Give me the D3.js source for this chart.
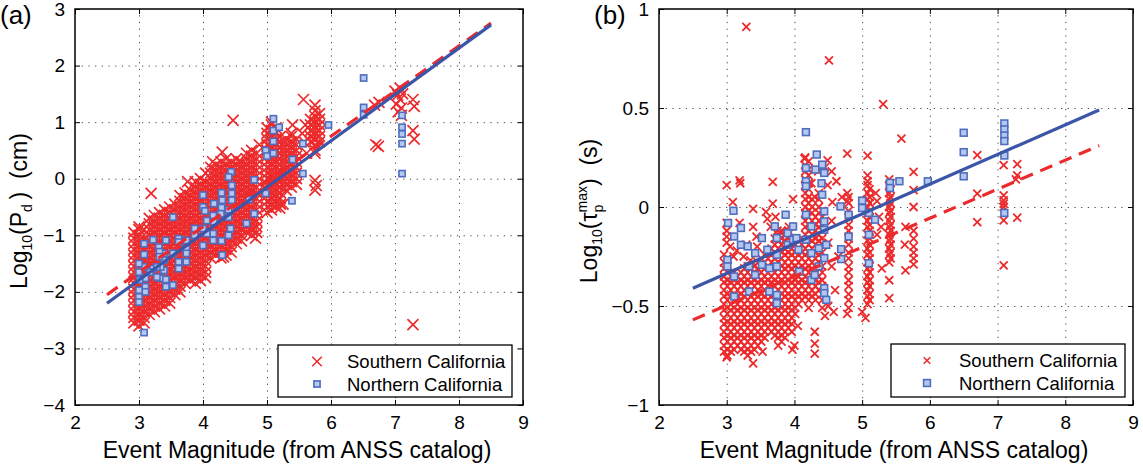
<!DOCTYPE html>
<html>
<meta charset="utf-8">
<script src="https://d3js.org/d3.v7.min.js"></script>
<style>
  body { margin: 0; background: #fff; }
  svg text { font-family: "Liberation Sans", Arial, Helvetica, sans-serif; fill: #000; }
</style>
<body>
<div id="chart"></div>
<script>
// ---------------- values ----------------
const magTicks = [2, 3, 4, 5, 6, 7, 8, 9];
const pdTicks = [-4, -3, -2, -1, 0, 1, 2, 3];
const pdTickLabels = ["−4", "−3", "−2", "−1", "0", "1", "2", "3"];
const tauTicks = [-1, -0.5, 0, 0.5, 1];
const tauTickLabels = ["−1", "−0.5", "0", "0.5", "1"];
const seriesNames = ["Southern California", "Northern California"];

// (a) Southern California, dense columns: [magnitude, log10(Pd) values]
const southPdColumns = [
  [2.92, [-0.95,-1.05,-1.15,-1.25,-1.35,-1.45,-1.55,-1.65,-1.75,-1.85,-1.95,-2.05,-2.15,-2.25,-2.35,-2.45,-2.55]],
  [3.00, [-0.85,-0.9,-1.0,-1.1,-1.2,-1.3,-1.4,-1.5,-1.6,-1.7,-1.8,-1.9,-2.0,-2.1,-2.2,-2.3,-2.4,-2.5,-2.6]],
  [3.08, [-0.9,-1.05,-1.15,-1.25,-1.35,-1.45,-1.55,-1.65,-1.75,-1.85,-1.95,-2.05,-2.15,-2.25,-2.35,-2.45,-2.55]],
  [3.16, [-0.7,-0.8,-0.9,-1.0,-1.1,-1.2,-1.3,-1.4,-1.5,-1.6,-1.7,-1.8,-1.9,-2.0,-2.1,-2.2,-2.3,-2.4]],
  [3.24, [-0.65,-0.75,-0.85,-0.95,-1.05,-1.15,-1.25,-1.35,-1.45,-1.55,-1.65,-1.75,-1.85,-1.95,-2.05,-2.15,-2.25,-2.35]],
  [3.32, [-0.6,-0.7,-0.8,-0.9,-1.0,-1.1,-1.2,-1.3,-1.4,-1.5,-1.6,-1.7,-1.8,-1.9,-2.0,-2.1,-2.2,-2.3]],
  [3.40, [-0.55,-0.65,-0.75,-0.85,-0.95,-1.05,-1.15,-1.25,-1.35,-1.45,-1.55,-1.65,-1.75,-1.85,-1.95,-2.05,-2.15,-2.25]],
  [3.48, [-0.5,-0.6,-0.7,-0.8,-0.9,-1.0,-1.1,-1.2,-1.3,-1.4,-1.5,-1.6,-1.7,-1.8,-1.9,-2.0,-2.1,-2.2]],
  [3.56, [-0.45,-0.55,-0.65,-0.75,-0.85,-0.95,-1.05,-1.15,-1.25,-1.35,-1.45,-1.55,-1.65,-1.75,-1.85,-1.95,-2.05]],
  [3.64, [-0.3,-0.4,-0.5,-0.6,-0.7,-0.8,-0.9,-1.0,-1.1,-1.2,-1.3,-1.4,-1.5,-1.6,-1.7,-1.8,-1.9,-2.0]],
  [3.72, [-0.25,-0.35,-0.45,-0.55,-0.65,-0.75,-0.85,-0.95,-1.05,-1.15,-1.25,-1.35,-1.45,-1.55,-1.65,-1.75,-1.85]],
  [3.80, [-0.2,-0.3,-0.4,-0.5,-0.6,-0.7,-0.8,-0.9,-1.0,-1.1,-1.2,-1.3,-1.4,-1.5,-1.6,-1.7,-1.8]],
  [3.88, [-0.05,-0.15,-0.25,-0.35,-0.45,-0.55,-0.65,-0.75,-0.85,-0.95,-1.05,-1.15,-1.25,-1.35,-1.45,-1.55,-1.65,-1.75,-1.85]],
  [3.96, [0.0,-0.1,-0.2,-0.3,-0.4,-0.5,-0.6,-0.7,-0.8,-0.9,-1.0,-1.1,-1.2,-1.3,-1.4,-1.5,-1.6,-1.7,-1.8]],
  [4.04, [0.1,-0.05,-0.15,-0.25,-0.35,-0.45,-0.55,-0.65,-0.75,-0.85,-0.95,-1.05,-1.15,-1.25,-1.35,-1.45,-1.55,-1.65,-1.75]],
  [4.12, [0.2,0.1,0.0,-0.1,-0.2,-0.3,-0.4,-0.5,-0.6,-0.7,-0.8,-0.9,-1.0,-1.1,-1.2,-1.3,-1.4]],
  [4.20, [0.25,0.15,0.05,-0.05,-0.15,-0.25,-0.35,-0.45,-0.55,-0.65,-0.75,-0.85,-0.95,-1.05,-1.15,-1.25,-1.35]],
  [4.28, [0.3,0.2,0.1,0.0,-0.1,-0.2,-0.3,-0.4,-0.5,-0.6,-0.7,-0.8,-0.9,-1.0,-1.1,-1.2,-1.3,-1.4]],
  [4.36, [0.35,0.25,0.15,0.05,-0.05,-0.15,-0.25,-0.35,-0.45,-0.55,-0.65,-0.75,-0.85,-0.95,-1.05,-1.15,-1.25,-1.35]],
  [4.44, [0.3,0.2,0.1,0.0,-0.1,-0.2,-0.3,-0.4,-0.5,-0.6,-0.7,-0.8,-0.9,-1.0,-1.1,-1.2,-1.3]],
  [4.52, [0.35,0.25,0.15,0.05,-0.05,-0.15,-0.25,-0.35,-0.45,-0.55,-0.65,-0.75,-0.85,-0.95,-1.05,-1.15]],
  [4.60, [0.3,0.2,0.1,0.0,-0.1,-0.2,-0.3,-0.4,-0.5,-0.6,-0.7,-0.8,-0.9,-1.0,-1.1]],
  [4.68, [0.45,0.35,0.25,0.15,0.05,-0.05,-0.15,-0.25,-0.35,-0.45,-0.55,-0.65,-0.75,-0.85,-0.95]],
  [4.76, [0.5,0.4,0.3,0.2,0.1,0.0,-0.1,-0.2,-0.3,-0.4,-0.5,-0.6,-0.7,-0.8,-0.9,-1.0]],
  [4.84, [0.45,0.35,0.25,0.15,0.05,-0.05,-0.15,-0.25,-0.35,-0.45,-0.55,-0.65,-0.75,-0.85,-0.95]],
  [5.00, [0.9,0.8,0.7,0.6,0.5,0.4,0.3,0.2,0.1,0.0,-0.1,-0.2,-0.3,-0.4,-0.5,-0.6]],
  [5.07, [1.0,0.95,0.85,0.75,0.65,0.55,0.45,0.35,0.25,0.15,0.05,-0.05,-0.15,-0.25,-0.35,-0.45,-0.55]],
  [5.14, [0.9,0.8,0.7,0.6,0.5,0.4,0.3,0.2,0.1,0.0,-0.1,-0.2,-0.3,-0.4,-0.5]],
  [5.21, [0.75,0.65,0.55,0.45,0.35,0.25,0.15,0.05,-0.05,-0.15,-0.25,-0.35,-0.45]],
  [5.30, [0.7,0.6,0.5,0.4,0.3,0.2,0.1,0.0,-0.1,-0.2]],
  [5.38, [0.8,0.75,0.65,0.55,0.45,0.35,0.25,0.15,0.05,-0.05,-0.15]],
  [5.46, [0.7,0.6,0.5,0.4,0.3,0.2,0.1,0.0,-0.1]],
  [5.68, [1.05,0.95,0.85,0.75,0.65]],
  [5.75, [1.3,1.2,1.1,1.0,0.9,0.8,0.7,0.6,0.5]],
  [5.82, [1.15,1.05,0.95,0.85,0.75,0.65]]
];
// (a) Southern California, isolated points: [magnitude, log10(Pd)]
const southPdScatter = [
  [3.19,-0.26],[3.76,-0.05],[4.30,0.47],[4.15,0.30],[4.47,1.03],[4.56,0.30],[4.82,-1.05],[4.78,-0.88],
  [4.32,-1.38],[4.88,0.60],[5.20,-0.52],[5.25,-0.45],[5.40,0.95],[5.57,1.40],[5.58,0.65],[5.62,0.45],
  [5.55,0.80],[5.60,0.95],[5.75,0.45],[5.75,-0.03],[5.77,-0.12],[5.75,-0.20],[6.68,1.30],[6.75,1.35],
  [6.70,0.60],[6.74,0.57],[7.00,1.55],[7.04,1.48],[7.08,1.40],[7.02,1.32],[7.10,1.25],[7.05,1.18],
  [7.12,1.50],[7.08,1.60],[7.10,1.12],[7.28,1.40],[7.30,1.28],[7.28,0.85],[7.30,0.70],[7.28,-2.58]
];
// (a) Northern California: [magnitude, log10(Pd)]
const northPd = [
  [6.51,1.78],[6.51,1.26],[6.51,1.13],[5.96,0.95],[5.10,1.06],[5.10,0.85],[5.19,0.91],[5.10,0.66],
  [4.98,0.50],[5.00,0.40],[5.10,0.45],[4.98,-0.26],[5.40,0.34],[5.56,0.62],[5.56,0.09],[5.39,-0.39],
  [4.80,-0.02],[4.80,-0.62],[4.68,-0.79],[4.72,-0.37],[4.44,0.12],[4.40,0.03],[4.45,-0.12],[4.45,-0.26],
  [4.45,-0.38],[4.40,-0.55],[4.40,-0.68],[4.43,-0.88],[4.40,-1.00],[4.29,-0.25],[4.30,-0.38],[4.29,-0.51],
  [4.28,-0.62],[4.17,-0.44],[4.16,-0.65],[4.17,-0.76],[4.29,-1.10],[4.30,-1.35],[4.16,-0.97],[4.06,-0.97],
  [4.00,-0.29],[4.00,-0.50],[4.03,-0.57],[4.06,-0.74],[4.00,-0.88],[4.00,-1.18],[4.16,-1.09],[3.87,-0.88],
  [3.87,-1.00],[3.74,-1.09],[3.74,-1.24],[3.62,-1.06],[3.62,-1.12],[3.74,-1.32],[3.74,-1.47],[3.62,-1.47],
  [3.62,-1.59],[3.53,-0.68],[3.53,-1.32],[3.53,-1.88],[3.42,-1.09],[3.39,-1.32],[3.39,-1.44],[3.39,-1.62],
  [3.42,-1.91],[3.31,-1.21],[3.32,-1.29],[3.32,-1.38],[3.34,-1.56],[3.34,-1.76],[3.42,-1.78],[3.22,-1.08],
  [3.22,-1.59],[3.17,-1.65],[3.08,-1.15],[3.08,-1.34],[3.08,-1.56],[3.10,-1.76],[3.10,-1.91],[3.10,-2.00],
  [3.00,-1.50],[3.00,-1.65],[3.01,-1.79],[3.00,-1.97],[3.00,-2.09],[3.00,-2.18],[3.08,-2.72],[3.28,-1.56],
  [3.28,-1.74],[7.11,1.12],[7.11,0.91],[7.11,0.79],[7.11,0.62],[7.11,0.09]
];
const fitPdSouth = [[2.5, -2.05], [8.5, 2.75]];
const fitPdNorth = [[2.5, -2.2], [8.5, 2.72]];

// (b) Southern California, dense columns: [magnitude, log10(tau_p max) values]
const southTauColumns = [
  [2.96, [-0.24,-0.28,-0.31,-0.35,-0.38,-0.42,-0.45,-0.49,-0.52,-0.56,-0.59,-0.63,-0.66,-0.7,-0.73]],
  [3.01, [-0.26,-0.3,-0.33,-0.37,-0.4,-0.44,-0.47,-0.51,-0.54,-0.58,-0.61,-0.65,-0.68,-0.72,-0.75]],
  [3.06, [-0.35,-0.38,-0.42,-0.45,-0.49,-0.52,-0.56,-0.59,-0.63,-0.66,-0.7,-0.73]],
  [3.11, [-0.33,-0.37,-0.4,-0.44,-0.47,-0.51,-0.54,-0.58,-0.61,-0.65,-0.68,-0.72]],
  [3.16, [-0.35,-0.38,-0.42,-0.45,-0.49,-0.52,-0.56,-0.59,-0.63,-0.66,-0.7]],
  [3.21, [-0.33,-0.37,-0.4,-0.44,-0.47,-0.51,-0.54,-0.58,-0.61,-0.65,-0.68,-0.72]],
  [3.26, [-0.31,-0.35,-0.38,-0.42,-0.45,-0.49,-0.52,-0.56,-0.59,-0.63,-0.66,-0.7,-0.73]],
  [3.31, [-0.3,-0.33,-0.37,-0.4,-0.44,-0.47,-0.51,-0.54,-0.58,-0.61,-0.65,-0.68,-0.72,-0.75]],
  [3.36, [-0.31,-0.35,-0.38,-0.42,-0.45,-0.49,-0.52,-0.56,-0.59,-0.63,-0.66,-0.7,-0.73]],
  [3.41, [-0.3,-0.33,-0.37,-0.4,-0.44,-0.47,-0.51,-0.54,-0.58,-0.61,-0.65,-0.68,-0.72]],
  [3.46, [-0.28,-0.31,-0.35,-0.38,-0.42,-0.45,-0.49,-0.52,-0.56,-0.59,-0.63,-0.66,-0.7]],
  [3.51, [-0.26,-0.3,-0.33,-0.37,-0.4,-0.44,-0.47,-0.51,-0.54,-0.58,-0.61,-0.65,-0.68]],
  [3.56, [-0.24,-0.28,-0.31,-0.35,-0.38,-0.42,-0.45,-0.49,-0.52,-0.56,-0.59,-0.63,-0.66]],
  [3.61, [-0.23,-0.26,-0.3,-0.33,-0.37,-0.4,-0.44,-0.47,-0.51,-0.54,-0.58,-0.61]],
  [3.66, [-0.21,-0.24,-0.28,-0.31,-0.35,-0.38,-0.42,-0.45,-0.49,-0.52,-0.56,-0.59,-0.63]],
  [3.71, [-0.16,-0.19,-0.23,-0.26,-0.3,-0.33,-0.37,-0.4,-0.44,-0.47,-0.51,-0.54,-0.58,-0.61,-0.65]],
  [3.76, [-0.14,-0.17,-0.21,-0.24,-0.28,-0.31,-0.35,-0.38,-0.42,-0.45,-0.49,-0.52,-0.56,-0.59,-0.63,-0.66,-0.7]],
  [3.81, [-0.12,-0.16,-0.19,-0.23,-0.26,-0.3,-0.33,-0.37,-0.4,-0.44,-0.47,-0.51,-0.54,-0.58,-0.61,-0.65,-0.68]],
  [3.86, [-0.14,-0.17,-0.21,-0.24,-0.28,-0.31,-0.35,-0.38,-0.42,-0.45,-0.49,-0.52,-0.56,-0.59,-0.63,-0.66]],
  [3.91, [-0.12,-0.16,-0.19,-0.23,-0.26,-0.3,-0.33,-0.37,-0.4,-0.44,-0.47,-0.51,-0.54,-0.58,-0.61]],
  [3.96, [-0.17,-0.21,-0.24,-0.28,-0.31,-0.35,-0.38,-0.42,-0.45,-0.49,-0.52,-0.56,-0.59,-0.63]],
  [4.01, [-0.16,-0.19,-0.23,-0.26,-0.3,-0.33,-0.37,-0.4,-0.44,-0.47,-0.51,-0.54]],
  [4.06, [-0.21,-0.24,-0.28,-0.31,-0.35,-0.38,-0.42,-0.45,-0.49]],
  [4.11, [-0.16,-0.19,-0.23,-0.26,-0.3,-0.33,-0.37,-0.4,-0.44,-0.47]],
  [4.16, [0.25,0.21,0.18,0.14,0.11,0.07,0.04,0.0,-0.03,-0.07,-0.1,-0.14,-0.17,-0.21,-0.24,-0.28,-0.31,-0.35,-0.38,-0.42,-0.45]],
  [4.21, [0.23,0.19,0.16,0.12,0.09,0.05,0.02,-0.02,-0.05,-0.09,-0.12,-0.16,-0.19,-0.23,-0.26,-0.3,-0.33,-0.37,-0.4,-0.44,-0.47,-0.51]],
  [4.26, [0.04,0.0,-0.03,-0.07,-0.1,-0.14,-0.17,-0.21,-0.24,-0.28,-0.31,-0.35,-0.38,-0.42,-0.45]],
  [4.31, [-0.05,-0.09,-0.12,-0.16,-0.19,-0.23,-0.26,-0.3,-0.33,-0.37,-0.4,-0.44,-0.47]],
  [4.36, [0.07,0.04,0.0,-0.03,-0.07,-0.1,-0.14,-0.17,-0.21,-0.24,-0.28,-0.31,-0.35,-0.38,-0.42]],
  [4.41, [-0.02,-0.05,-0.09,-0.12,-0.16,-0.19,-0.23,-0.26,-0.3,-0.33,-0.37,-0.4,-0.44,-0.47,-0.51]],
  [4.80, [0.05,0.02,-0.02,-0.05,-0.09,-0.12,-0.16,-0.19,-0.23,-0.26,-0.3,-0.33,-0.37,-0.4,-0.44,-0.47,-0.51]],
  [5.08, [0.11,0.07,0.04,0.0,-0.03,-0.07,-0.1,-0.14,-0.17,-0.21,-0.24,-0.28,-0.31,-0.35,-0.38,-0.42,-0.45,-0.49]],
  [5.11, [0.09,0.05,0.02,-0.02,-0.05,-0.09,-0.12,-0.16,-0.19,-0.23,-0.26,-0.3,-0.33,-0.37,-0.4,-0.44,-0.47]],
  [5.40, [0.14,0.11,0.07,0.04,0.0,-0.03,-0.07,-0.1,-0.14,-0.17,-0.21,-0.24,-0.28]],
  [5.42, [0.12,0.09,0.05,0.02,-0.02,-0.05,-0.09,-0.12,-0.16,-0.19,-0.23,-0.26]]
];
// (b) Southern California, isolated points
const southTauScatter = [
  [3.29,0.91],[4.51,0.74],[5.31,0.52],[5.58,0.345],[4.78,0.27],[5.08,0.26],[5.08,0.16],[5.08,0.13],
  [4.49,0.236],[4.15,0.245],[4.49,0.11],[4.56,0.025],[4.78,0.07],[4.78,0.03],[5.76,0.177],[5.76,0.085],
  [5.76,0.0],[5.76,-0.12],[5.76,-0.16],[5.76,-0.2],[5.76,-0.23],[5.76,-0.26],[5.76,-0.29],[5.64,-0.1],
  [5.63,-0.19],[5.64,-0.32],[5.40,-0.37],[5.40,-0.46],[5.29,-0.31],[5.20,0.07],[5.22,0.03],[5.25,-0.05],
  [5.28,-0.1],[5.22,-0.14],[4.78,-0.54],[5.00,-0.53],[5.05,-0.56],[4.58,-0.53],[6.70,0.262],[6.70,0.068],
  [6.70,-0.076],[7.09,0.211],[7.09,0.059],[7.09,0.034],[7.09,0.017],[7.09,0.0],[7.09,-0.067],[7.09,-0.295],
  [7.29,0.216],[7.29,0.16],[7.27,0.14],[7.29,-0.054],[3.00,0.11],[3.19,0.135],[3.20,0.12],[3.68,0.127],
  [3.09,0.025],[3.39,-0.01],[3.68,0.017],[3.98,0.04],[3.00,-0.08],[3.00,-0.12],[3.00,-0.15],[3.00,-0.18],
  [3.19,-0.08],[3.39,-0.1],[3.58,-0.025],[3.44,-0.15],[3.29,-0.19],[3.60,-0.06],[3.65,-0.1],[3.72,-0.05],
  [3.75,-0.12],[3.80,-0.13],[3.85,-0.17],[3.92,-0.1],[3.39,-0.79],[3.00,-0.76],[3.53,-0.73],[3.97,-0.72],
  [4.30,-0.63],[4.30,-0.69],[4.30,-0.74],[4.00,-0.7],[4.05,-0.6],[4.60,-0.42],[4.55,-0.3],[4.50,-0.18],
  [4.55,-0.07],[4.62,0.13],[4.65,-0.25],[4.70,0.05],[3.05,-0.2],[3.10,-0.25],[3.15,-0.22],[3.25,-0.25],
  [3.35,-0.27],[3.45,-0.2],[4.25,0.12],[4.30,0.05],[4.35,0.18],[4.45,0.2],[4.55,0.18],[4.45,-0.55],[4.50,-0.5]
];
// (b) Northern California
const northTau = [
  [4.17,0.378],[4.33,0.265],[4.17,0.197],[4.31,0.189],[4.41,0.214],[4.44,0.172],[4.17,0.13],[4.17,0.105],
  [4.40,0.12],[4.41,0.062],[4.17,-0.039],[4.44,-0.022],[4.44,-0.073],[4.25,-0.098],[4.44,-0.115],[4.68,0.003],
  [4.80,-0.039],[4.80,-0.149],[4.69,-0.213],[4.69,-0.263],[5.00,0.032],[5.00,-0.005],[5.10,-0.03],[5.19,-0.064],
  [5.10,-0.14],[5.10,-0.284],[5.41,0.122],[5.41,0.096],[5.55,0.13],[5.97,0.13],[6.50,0.375],[6.50,0.277],
  [6.50,0.155],[7.10,0.422],[7.10,0.392],[7.10,0.361],[7.10,0.333],[7.10,0.26],[7.10,-0.03],[3.02,-0.081],
  [3.10,-0.019],[3.11,-0.149],[3.01,-0.267],[3.01,-0.3],[3.11,-0.351],[3.11,-0.452],[3.21,-0.106],[3.21,-0.191],
  [3.31,-0.199],[3.33,-0.3],[3.33,-0.427],[3.42,-0.233],[3.42,-0.343],[3.52,-0.157],[3.52,-0.292],[3.60,-0.216],
  [3.63,-0.309],[3.71,-0.098],[3.74,-0.157],[3.74,-0.241],[3.74,-0.3],[3.74,-0.444],[3.74,-0.486],[3.63,-0.427],
  [3.87,-0.039],[3.90,-0.132],[3.90,-0.191],[3.98,-0.098],[3.98,-0.165],[4.03,-0.157],[4.06,-0.216],[4.07,-0.326],
  [4.17,-0.165],[4.25,-0.233],[4.25,-0.368],[4.36,-0.208],[4.36,-0.3],[4.44,-0.258],[4.44,-0.41],[4.44,-0.435],
  [4.47,-0.469],[4.47,-0.191],[4.30,-0.343]
];
const fitTauSouth = [[2.5, -0.57], [8.5, 0.31]];
const fitTauNorth = [[2.5, -0.41], [8.5, 0.49]];

// ---------------- drawing ----------------
const red = "#ec2a2c", blueLine = "#3b55a8", sqStroke = "#4f6dbf", sqFill = "#b4c8ef";

const svg = d3.select("#chart").append("svg")
    .attr("width", 1143)
    .attr("height", 468);

const flat = cols => cols.flatMap(c => c[1].map(v => [c[0], v]));

function drawPanel(cfg) {
  const x = d3.scaleLinear().domain([2, 9]).range([cfg.left, cfg.right]);
  const y = d3.scaleLinear().domain(cfg.yDomain).range([cfg.bottom, cfg.top]);
  const w = cfg.right - cfg.left, h = cfg.bottom - cfg.top;
  const g = svg.append("g");

  // dotted grid
  g.append("g").attr("transform", "translate(0," + cfg.bottom + ")")
    .call(d3.axisBottom(x).tickValues(magTicks.slice(1, -1)).tickSize(-h).tickFormat(""))
    .call(a => a.select(".domain").remove())
    .selectAll("line").attr("stroke", "#444").attr("stroke-dasharray", "1.2,5.5");
  g.append("g").attr("transform", "translate(" + cfg.left + ",0)")
    .call(d3.axisLeft(y).tickValues(cfg.yTicks.slice(1, -1)).tickSize(-w).tickFormat(""))
    .call(a => a.select(".domain").remove())
    .selectAll("line").attr("stroke", "#444").attr("stroke-dasharray", "1.2,5.5");

  // red crosses
  const s = cfg.cross;
  const crossPath = d => {
    const cx = x(d[0]), cy = y(d[1]);
    return "M" + (cx - s) + "," + (cy - s) + "L" + (cx + s) + "," + (cy + s) +
           "M" + (cx - s) + "," + (cy + s) + "L" + (cx + s) + "," + (cy - s);
  };
  g.append("g").selectAll("path")
    .data(flat(cfg.southCols).concat(cfg.southScatter))
    .join("path")
      .attr("d", crossPath)
      .attr("fill", "none")
      .attr("stroke", red)
      .attr("stroke-width", cfg.crossWidth);

  // blue squares
  const q = cfg.square;
  g.append("g").selectAll("rect")
    .data(cfg.north)
    .join("rect")
      .attr("x", d => x(d[0]) - q / 2)
      .attr("y", d => y(d[1]) - q / 2)
      .attr("width", q)
      .attr("height", q)
      .attr("fill", sqFill)
      .attr("stroke", sqStroke)
      .attr("stroke-width", 1.6);

  // fitted lines
  const line = d3.line().x(d => x(d[0])).y(d => y(d[1]));
  g.append("path").datum(cfg.fitSouth).attr("d", line)
    .attr("fill", "none").attr("stroke", red).attr("stroke-width", 3.2)
    .attr("stroke-dasharray", "13,8");
  g.append("path").datum(cfg.fitNorth).attr("d", line)
    .attr("fill", "none").attr("stroke", blueLine).attr("stroke-width", 3.2);

  // ticks on all four sides, pointing in
  const styleAxis = a => {
    a.select(".domain").remove();
    a.selectAll("line").attr("stroke", "#000");
    a.selectAll("text").attr("font-size", 19).attr("font-family", "Liberation Sans, Arial, sans-serif");
  };
  g.append("g").attr("transform", "translate(0," + cfg.bottom + ")")
    .call(d3.axisBottom(x).tickValues(magTicks).tickSize(-5).tickPadding(11)
      .tickFormat(d3.format("d"))).call(styleAxis);
  g.append("g").attr("transform", "translate(0," + cfg.top + ")")
    .call(d3.axisTop(x).tickValues(magTicks).tickSize(-5).tickFormat("")).call(styleAxis);
  g.append("g").attr("transform", "translate(" + cfg.left + ",0)")
    .call(d3.axisLeft(y).tickValues(cfg.yTicks).tickSize(-5).tickPadding(10)
      .tickFormat((d, i) => cfg.yLabels[i])).call(styleAxis);
  g.append("g").attr("transform", "translate(" + cfg.right + ",0)")
    .call(d3.axisRight(y).tickValues(cfg.yTicks).tickSize(-5).tickFormat("")).call(styleAxis);

  g.append("rect")
    .attr("x", cfg.left).attr("y", cfg.top).attr("width", w).attr("height", h)
    .attr("fill", "none").attr("stroke", "#000").attr("stroke-width", 1.5);

  // legend
  const L = cfg.legend;
  const lg = g.append("g");
  lg.append("rect").attr("x", L.x).attr("y", L.y).attr("width", L.w).attr("height", L.h)
    .attr("fill", "#fff").attr("stroke", "#000").attr("stroke-width", 1.3);
  const ls = L.cross;
  const cx = L.x + L.sym, cy1 = L.y + 16.5, cy2 = L.y + 39;
  lg.append("path")
    .attr("d", "M" + (cx - ls) + "," + (cy1 - ls) + "L" + (cx + ls) + "," + (cy1 + ls) +
               "M" + (cx - ls) + "," + (cy1 + ls) + "L" + (cx + ls) + "," + (cy1 - ls))
    .attr("stroke", red).attr("stroke-width", 1.5).attr("fill", "none");
  lg.append("rect").attr("x", cx - L.sq / 2).attr("y", cy2 - L.sq / 2)
    .attr("width", L.sq).attr("height", L.sq)
    .attr("fill", sqFill).attr("stroke", sqStroke).attr("stroke-width", 1.6);
  lg.selectAll("text.leg").data(seriesNames).join("text")
    .attr("class", "leg")
    .attr("x", L.x + L.text)
    .attr("y", (d, i) => (i === 0 ? cy1 : cy2) + 6.5)
    .attr("font-size", 18.5)
    .text(d => d);

  // x title
  g.append("text")
    .attr("x", (cfg.left + cfg.right) / 2 - 2)
    .attr("y", 458)
    .attr("text-anchor", "middle")
    .attr("font-size", 23)
    .text("Event Magnitude (from ANSS catalog)");

  // panel letter
  g.append("text").attr("x", cfg.letterX).attr("y", 24).attr("font-size", 26).text(cfg.letter);

  // y title
  const yt = g.append("text")
    .attr("transform", "translate(" + cfg.yTitleX + "," + ((cfg.top + cfg.bottom) / 2 + 4) + ") rotate(-90)")
    .attr("text-anchor", "middle")
    .attr("font-size", 23);
  cfg.yTitle(yt);
}

drawPanel({
  left: 75, right: 523, top: 9, bottom: 405,
  yDomain: [-4, 3], yTicks: pdTicks, yLabels: pdTickLabels,
  southCols: southPdColumns, southScatter: southPdScatter, north: northPd,
  fitSouth: fitPdSouth, fitNorth: fitPdNorth,
  cross: 5.5, crossWidth: 1.7, square: 6.2,
  legend: { x: 278, y: 345, w: 234, h: 52, sym: 39, text: 69, cross: 4.8, sq: 6.2 },
  letter: "(a)", letterX: 0, yTitleX: 27,
  yTitle: t => {
    t.append("tspan").text("Log");
    t.append("tspan").attr("font-size", 14).attr("dy", 5).text("10");
    t.append("tspan").attr("dy", -5).text("(P");
    t.append("tspan").attr("font-size", 14).attr("dy", 5).text("d");
    t.append("tspan").attr("dy", -5).text("\u2009)\u00a0\u00a0(cm)");
  }
});

drawPanel({
  left: 659, right: 1133, top: 9, bottom: 405,
  yDomain: [-1, 1], yTicks: tauTicks, yLabels: tauTickLabels,
  southCols: southTauColumns, southScatter: southTauScatter, north: northTau,
  fitSouth: fitTauSouth, fitNorth: fitTauNorth,
  cross: 4, crossWidth: 1.8, square: 6.8,
  legend: { x: 891, y: 344, w: 234, h: 53, sym: 36, text: 68, cross: 3.3, sq: 6.8 },
  letter: "(b)", letterX: 594, yTitleX: 597,
  yTitle: t => {
    t.append("tspan").text("Log");
    t.append("tspan").attr("font-size", 14).attr("dy", 5).text("10");
    t.append("tspan").attr("dy", -5).text("(τ");
    t.append("tspan").attr("font-size", 14).attr("dy", 6).text("p");
    t.append("tspan").attr("font-size", 14).attr("dx", -7.8).attr("dy", -16).text("max");
    t.append("tspan").attr("dy", 10).text(")\u00a0\u00a0(s)");
  }
});
</script>
</body>
</html>
